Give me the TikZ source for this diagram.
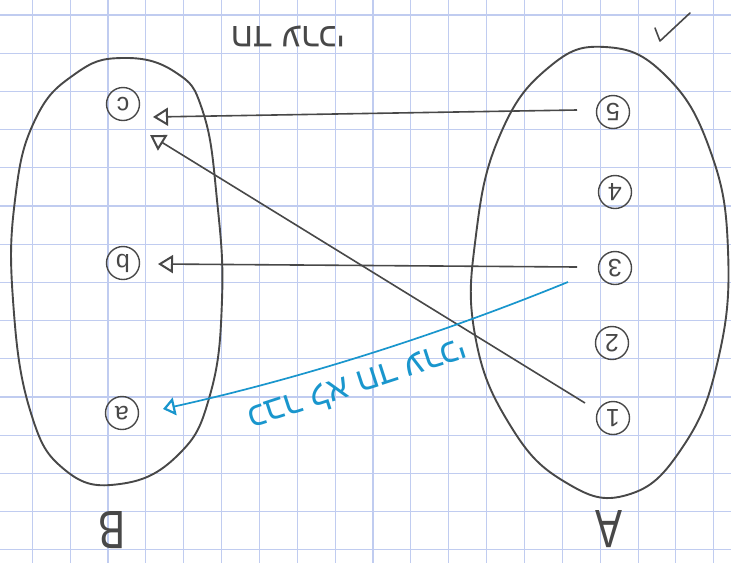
\documentclass[tikz,border=0pt]{standalone}
\usepackage{fontspec}
\setmainfont{Liberation Sans}
\newfontfamily\hebfont[Script=Hebrew]{Liberation Sans}
\TeXXeTstate=1
\usetikzlibrary{arrows.meta,calc}
\definecolor{pencil}{RGB}{72,72,72}
\definecolor{gridblue}{RGB}{192,204,240}
\definecolor{inkblue}{RGB}{25,150,205}
\begin{document}
\begin{tikzpicture}[x=1pt,y=-1pt,
  elem/.style={circle,draw=pencil,line width=1.4pt,minimum size=33pt,inner sep=0pt,
    text=pencil,font=\fontsize{25}{25}\selectfont,rotate=180},
  conn/.style={draw=pencil,line width=1.6pt,
    -{Triangle[open,length=15pt,width=18pt,line width=2pt]}},
  bconn/.style={draw=inkblue,line width=1.7pt,
    -{Triangle[open,length=12pt,width=18pt,line width=2.2pt]}},
  setline/.style={draw=pencil,line width=1.9pt},
  setlabel/.style={text=pencil,font=\fontsize{54}{54}\selectfont,rotate=180,xscale=0.75},
  hebtext/.style={font=\fontsize{34}{34}\selectfont\hebfont,inner sep=0pt}
]
\useasboundingbox (0,0) rectangle (731,563);
\fill[white] (0,0) rectangle (731,563);
% graph paper
\foreach \k in {0,...,18} {\draw[gridblue,line width=1.1pt] ({32.3+37.86*\k},0) -- ({32.3+37.86*\k},563);}
\foreach \k in {0,...,14} {\draw[gridblue,line width=1.1pt] (0,{15+38.2*\k}) -- (731,{15+38.2*\k});}

% sets
\draw[setline] plot[smooth cycle,tension=0.75] coordinates {(122,58) (175,72) (203,112) (217,200) (222,300) (210,395) (178,455) (120,484) (65,470) (30,410) (13,300) (15,200) (35,120) (75,74)};
\draw[setline] plot[smooth cycle,tension=0.75] coordinates {(605,47) (665,75) (710,150) (728,250) (718,360) (682,448) (627,495) (565,482) (510,425) (475,335) (476,235) (500,135) (548,68)};

% elements
\node[elem] (n5) at (613,112) {5};
\node[elem] (n4) at (615,192) {4};
\node[elem] (n3) at (615,268) {3};
\node[elem] (n2) at (612,343) {2};
\node[elem] (n1) at (613,418) {1};
\node[elem] (nc) at (123,104) {c};
\node[elem] (nb) at (123,263) {b};
\node[elem] (na) at (122,413) {a};

% set names
\node[setlabel] (lA) at (609,529) {A};
\node[setlabel] (lB) at (112,530) {B};

% relation arrows
\draw[conn] ($(n5)+(-36,-2)$) -- ($(nc)+(30,13)$);
\draw[conn] ($(n1)+(-28,-15)$) -- ($(nc)+(27,31)$);
\draw[conn] ($(n3)+(-38,-1)$) -- ($(nb)+(35,1)$);
\draw[bconn] ($(n3)+(-47,14)$) .. controls (433,337) and (298,379) .. ($(na)+(41,-4)$);

% texts
\node[hebtext,text=pencil,rotate=180] (t1) at (288,36) {\beginR חד ערכי\endR};
\node[hebtext,text=inkblue,rotate=198] (t2) at (358,386) {\beginR כבר לא חד ערכי\endR};

% check mark
\draw[pencil,line width=1.6pt,line cap=round,line join=round] (655,28) -- (660,41) -- (690,13);
\end{tikzpicture}
\end{document}
